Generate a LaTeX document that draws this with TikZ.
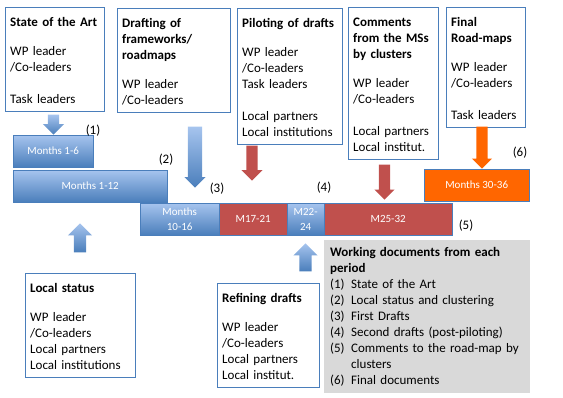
\documentclass[tikz,border=0pt]{standalone}
\usepackage{fontspec}
\setmainfont{Carlito}
\usetikzlibrary{shapes.arrows}
\definecolor{wpblue}  {HTML}{4A7EBB}
\definecolor{wplight} {HTML}{A6C4EE}
\definecolor{wpred}   {HTML}{C0504D}
\definecolor{wporange}{HTML}{FF6600}
\definecolor{wpgray}  {HTML}{D9D9D9}
\newcommand\docitem[1]{\makebox[21pt][l]{(#1)}}

\begin{document}
\begin{tikzpicture}[x=1pt, y=-1pt,
  every node/.style={font=\fontsize{13}{16}\selectfont},
  task/.style={draw=wpblue, anchor=north west, align=left,
               inner xsep=5pt, inner ysep=7pt,
               execute at begin node=\rule{0pt}{12.5pt}},
  period/.style={draw=wpblue, anchor=north west, minimum height=32pt,
                 inner sep=0pt, text=white, align=center,
                 font=\fontsize{11}{15}\selectfont},
  pblue/.style={period, top color=wplight, bottom color=wpblue},
  pred/.style={period, fill=wpred},
  porange/.style={period, fill=wporange},
  num/.style={inner sep=0pt},
  barrow/.style={single arrow, anchor=tip, draw=none},
  bdown/.style={barrow, shape border rotate=270, top color=wplight, bottom color=wpblue},
  bup/.style={barrow, shape border rotate=90, top color=wplight, bottom color=wpblue},
  rdown/.style={barrow, shape border rotate=270, fill=wpred},
  odown/.style={barrow, shape border rotate=270, fill=wporange},
]
\useasboundingbox (0,0) rectangle (563,398);

% tasks above the time line
\node[task, text width=89pt] (sota) at (5,7)
  {\textbf{State of the Art}\\[-3pt]~\\WP leader\\/Co-leaders\\~\\Task leaders};
\node[task, text width=103pt] (draft) at (117,8)
  {\textbf{Drafting of}\\\textbf{frameworks/}\\\textbf{roadmaps}\\[-3pt]~\\WP leader\\/Co-leaders};
\node[task, text width=95pt] (pilot) at (237,8)
  {\textbf{Piloting of drafts}\\[-3pt]~\\WP leader\\/Co-leaders\\Task leaders\\~\\Local partners\\Local institutions};
\node[task, text width=80pt] (comm) at (348,7)
  {\textbf{Comments}\\\textbf{from the MSs}\\\textbf{by clusters}\\[-3pt]~\\WP leader\\/Co-leaders\\~\\Local partners\\Local institut.};
\node[task, text width=69pt] (final) at (446,7)
  {\textbf{Final}\\\textbf{Road-maps}\\[-3pt]~\\WP leader\\/Co-leaders\\~\\Task leaders};

% time line
\node[pblue, minimum width=80pt] (m16) at (13,135) {Months 1-6};
\node[pblue, minimum width=154pt] (m112) at (13,170) {Months 1-12};
\node[pblue, minimum width=79pt] (m1016) at (140,203) {Months\\10-16};
\node[pred, minimum width=68pt] (m1721) at (219,203) {M17-21};
\node[pblue, minimum width=37pt] (m2224) at (287,203) {M22-\\24};
\node[pred, minimum width=128pt] (m2532) at (324,203) {M25-32};
\node[porange, minimum width=105pt] (m3036) at (424,169) {Months 30-36};

% block arrows
\node[bdown, minimum height=20pt, inner sep=5.5pt, single arrow head extend=5pt] (aSota) at (53.5,135) {};
\node[bdown, minimum height=61pt, inner sep=7pt, single arrow head extend=3.5pt] (aDraft) at (195,188) {};
\node[rdown, minimum height=35pt, inner sep=5.5pt, single arrow head extend=5pt] (aPilot) at (252,181) {};
\node[rdown, minimum height=35pt, inner sep=5.5pt, single arrow head extend=4.5pt] (aComm) at (384.5,200) {};
\node[odown, minimum height=42pt, inner sep=5.5pt, single arrow head extend=4.5pt] (aFinal) at (482,169) {};
\node[bup, minimum height=29pt, inner sep=6pt, single arrow head extend=6pt] (aLocal) at (80,223) {};
\node[bup, minimum height=28pt, inner sep=6pt, single arrow head extend=6pt] (aRefine) at (305.5,243) {};

% period numbers
\node[num] (n1) at (93,131) {(1)};
\node[num] (n2) at (166,160) {(2)};
\node[num] (n3) at (217,189) {(3)};
\node[num] (n4) at (324,188) {(4)};
\node[num] (n5) at (466,226) {(5)};
\node[num] (n6) at (520,153) {(6)};

% tasks below the time line
\node[task, text width=100pt] (local) at (25,273)
  {\textbf{Local status}\\[-3pt]~\\WP leader\\/Co-leaders\\Local partners\\Local institutions};
\node[task, text width=92pt] (refine) at (217,283)
  {\textbf{Refining drafts}\\[-3pt]~\\WP leader\\/Co-leaders\\Local partners\\Local institut.};

% working documents
\node[anchor=north west, fill=wpgray, align=left, text width=194pt,
      inner xsep=6pt, inner ysep=7pt] (docs) at (324,240)
  {\textbf{Working documents from each}\\\textbf{period}\\
   \docitem{1}State of the Art\\
   \docitem{2}Local status and clustering\\
   \docitem{3}First Drafts\\
   \docitem{4}Second drafts (post-piloting)\\
   \docitem{5}Comments to the road-map by\\
   \hspace*{21pt}clusters\\
   \docitem{6}Final documents};
\end{tikzpicture}
\end{document}
